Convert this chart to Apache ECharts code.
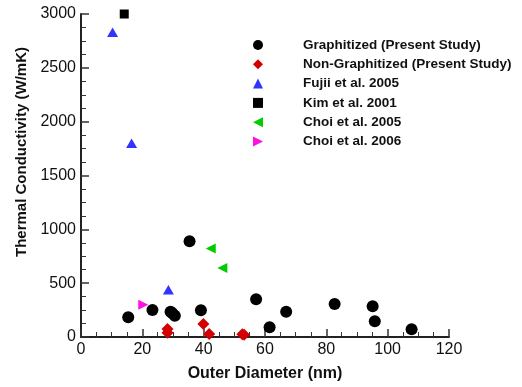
<!DOCTYPE html>
<html>
<head>
<meta charset="utf-8">
<script src="https://cdn.jsdelivr.net/npm/echarts@6/dist/echarts.min.js"></script>
<style>
  html, body { margin: 0; padding: 0; background: #fff; }
  #chart { width: 522px; height: 387px; }
</style>
</head>
<body>
<div id="chart"></div>
<script>
// outer diameter (nm), thermal conductivity (W/mK)
const graphitized = [
  [15.4, 183], [23.3, 251], [29.2, 235], [29.8, 220], [30.6, 198],
  [35.4, 890], [39.1, 248], [57.1, 351], [61.5, 90], [66.9, 235],
  [82.7, 307], [95.1, 285], [95.8, 146], [107.8, 72]
]
const nonGraphitized = [
  [28.2, 75], [28.2, 40], [39.9, 121], [41.8, 28], [52.6, 25], [53.2, 20]
]
const fujii2005 = [[10.3, 2830], [16.5, 1800], [28.5, 440]]
const kim2001 = [[14.1, 3000]]
const choi2005 = [[42.3, 821], [46.1, 642]]
const choi2006 = [[20.3, 300]]

const seriesNames = [
  'Graphitized (Present Study)',
  'Non-Graphitized (Present Study)',
  'Fujii et al. 2005',
  'Kim et al. 2001',
  'Choi et al. 2005',
  'Choi et al. 2006'
]

const chart = echarts.init(document.getElementById('chart'))

const font = 'Liberation Sans'
// left / right pointing triangles for legend icons
const triLeft = 'path://M0,5L10,0L10,10Z'
const triRight = 'path://M10,5L0,0L0,10Z'

const option = {
  animation: false,
  grid: { left: 81, right: 73, top: 14, bottom: 50 },
  legend: {
    orient: 'vertical',
    left: 253,
    top: 38,
    padding: 0,
    itemWidth: 10,
    itemHeight: 10,
    itemGap: 5.3,
    data: [
      seriesNames[0], seriesNames[1], seriesNames[2], seriesNames[3],
      { name: seriesNames[4], icon: triLeft },
      { name: seriesNames[5], icon: triRight }
    ],
    textStyle: {
      color: '#111', fontSize: 13.5, lineHeight: 14, fontWeight: 'bold', fontFamily: font,
      padding: [0, 0, 0, 35]
    }
  },
  xAxis: {
    type: 'value', min: 0, max: 120, interval: 20,
    axisLine: { show: true, lineStyle: { color: '#222', width: 2 } },
    // inside:true on this axis hides all ticks in v6, so point them up with a negative length
    axisTick: { show: true, inside: false, length: -8, lineStyle: { color: '#333', width: 1.5 } },
    minorTick: { show: true, splitNumber: 4, length: -5, lineStyle: { color: '#333', width: 1 } },
    splitLine: { show: false },
    axisLabel: { color: '#111', fontSize: 16, fontFamily: font, margin: 5 },
    name: 'Outer Diameter (nm)', nameLocation: 'middle', nameGap: 29,
    nameTextStyle: { color: '#111', fontSize: 16, fontWeight: 'bold', fontFamily: font }
  },
  yAxis: {
    type: 'value', min: 0, max: 3000, interval: 500,
    axisLine: { show: true, lineStyle: { color: '#222', width: 2 } },
    axisTick: { show: true, inside: true, length: 8, lineStyle: { color: '#333', width: 1.5 } },
    minorTick: { show: true, splitNumber: 4, length: 5, lineStyle: { color: '#333', width: 1 } },
    splitLine: { show: false },
    axisLabel: { color: '#111', fontSize: 16, fontFamily: font, margin: 5, formatter: v => String(v) },
    name: 'Thermal Conductivity (W/mK)', nameLocation: 'middle', nameGap: 34,
    nameTextStyle: { color: '#111', fontSize: 15, fontWeight: 'bold', fontFamily: font, padding: [0, 0, 0, 47] }
  },
  series: [
    { name: seriesNames[0], type: 'scatter', data: graphitized, symbol: 'circle', symbolSize: 12, itemStyle: { color: '#000', opacity: 1 } },
    { name: seriesNames[1], type: 'scatter', data: nonGraphitized, symbol: 'diamond', symbolSize: [12, 12], itemStyle: { color: '#d40000', opacity: 1 } },
    { name: seriesNames[2], type: 'scatter', data: fujii2005, symbol: 'triangle', symbolSize: [11, 9.5], itemStyle: { color: '#3333ff', opacity: 1 } },
    { name: seriesNames[3], type: 'scatter', data: kim2001, symbol: 'rect', symbolSize: 9, itemStyle: { color: '#000', opacity: 1 } },
    { name: seriesNames[4], type: 'scatter', data: choi2005, symbol: 'triangle', symbolRotate: 90, symbolSize: 10, itemStyle: { color: '#00cc00', opacity: 1 } },
    { name: seriesNames[5], type: 'scatter', data: choi2006, symbol: 'triangle', symbolRotate: -90, symbolSize: 10, itemStyle: { color: '#ff10e0', opacity: 1 } }
  ]
}

chart.setOption(option)
</script>
</body>
</html>
